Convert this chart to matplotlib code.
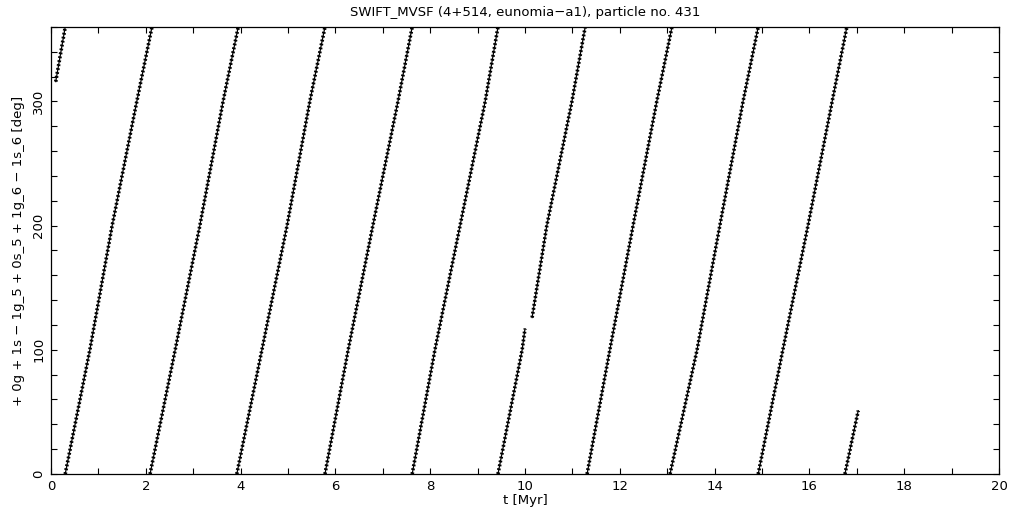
import matplotlib
matplotlib.use("Agg")
import matplotlib.pyplot as plt
import numpy as np
from matplotlib.ticker import MultipleLocator

ANGLES = [0, 100, 200, 300, 360]

# time [Myr] at which each full circulation band passes each angle level
T_AT_0 = [0.30, 2.09, 3.92, 5.78, 7.62, 9.43, 11.31, 13.06, 14.92]
T_AT_100 = [0.82, 2.62, 4.45, 6.27, 8.10, 9.94, 11.79, 13.63, 15.44]
T_AT_200 = [1.29, 3.14, 4.98, 6.79, 8.63, 10.46, 12.28, 14.11, 15.97]
T_AT_300 = [1.81, 3.63, 5.46, 7.32, 9.16, 10.99, 12.78, 14.60, 16.48]
T_AT_360 = [2.13, 3.95, 5.78, 7.62, 9.43, 11.27, 13.10, 14.92, 16.79]

# partial bands at the start and at the end of the integration
FIRST_T = [0.10, 0.30]
FIRST_ANG = [316, 360]
LAST_T = [16.75, 17.03]
LAST_ANG = [0, 51]

# small hole in the sixth band (lower end / upper end of the missing part)
GAP_BAND = 5
GAP_T = [10.00, 10.15]
GAP_ANG = [117, 126]

TITLE = "SWIFT_MVSF (4+514, eunomia\u2212a1), particle no. 431"
XLABEL = "t [Myr]"
YLABEL = "+ 0g + 1s \u2212 1g_5 + 0s_5 + 1g_6 \u2212 1s_6 [deg]"

plt.rcParams.update({"font.family": "DejaVu Sans", "font.size": 9.5})


def draw_band(ax, ts, ang):
    # thin core plus a speckled wider stroke, to look like a cloud of points
    ax.plot(ts, ang, color="black", lw=0.9)
    ax.plot(ts, ang, color="black", lw=2.6, linestyle=(0, (0.5, 0.6)))


fig = plt.figure(figsize=(10.21, 5.11), dpi=100)
ax = fig.add_axes([0.04995, 0.0724, 0.9285, 0.8748])

for i in range(len(T_AT_0)):
    ts = [T_AT_0[i], T_AT_100[i], T_AT_200[i], T_AT_300[i], T_AT_360[i]]
    ang = list(ANGLES)
    if i == GAP_BAND:
        ts = [ts[0], ts[1], GAP_T[0], np.nan, GAP_T[1]] + ts[2:]
        ang = [ang[0], ang[1], GAP_ANG[0], np.nan, GAP_ANG[1]] + ang[2:]
    draw_band(ax, ts, ang)

draw_band(ax, FIRST_T, FIRST_ANG)
draw_band(ax, LAST_T, LAST_ANG)

ax.set_xlim(0, 20)
ax.set_ylim(0, 360)
ax.xaxis.set_major_locator(MultipleLocator(2))
ax.xaxis.set_minor_locator(MultipleLocator(1))
ax.yaxis.set_major_locator(MultipleLocator(100))
ax.yaxis.set_minor_locator(MultipleLocator(20))
ax.tick_params(which="both", direction="in", top=True, right=True,
               length=4.5, width=0.8, colors="black", labelsize=9.5)
ax.tick_params(axis="x", pad=4)
ax.tick_params(axis="y", pad=4)
for lab in ax.get_yticklabels():
    lab.set_rotation(90)
    lab.set_va("center")
for sp in ax.spines.values():
    sp.set_linewidth(0.9)

ax.set_title(TITLE, fontsize=9.5, pad=8)
ax.set_xlabel(XLABEL, fontsize=9.5, labelpad=1)
ax.set_ylabel(YLABEL, fontsize=9.5, labelpad=5)

fig.savefig("out.png", dpi=100)
